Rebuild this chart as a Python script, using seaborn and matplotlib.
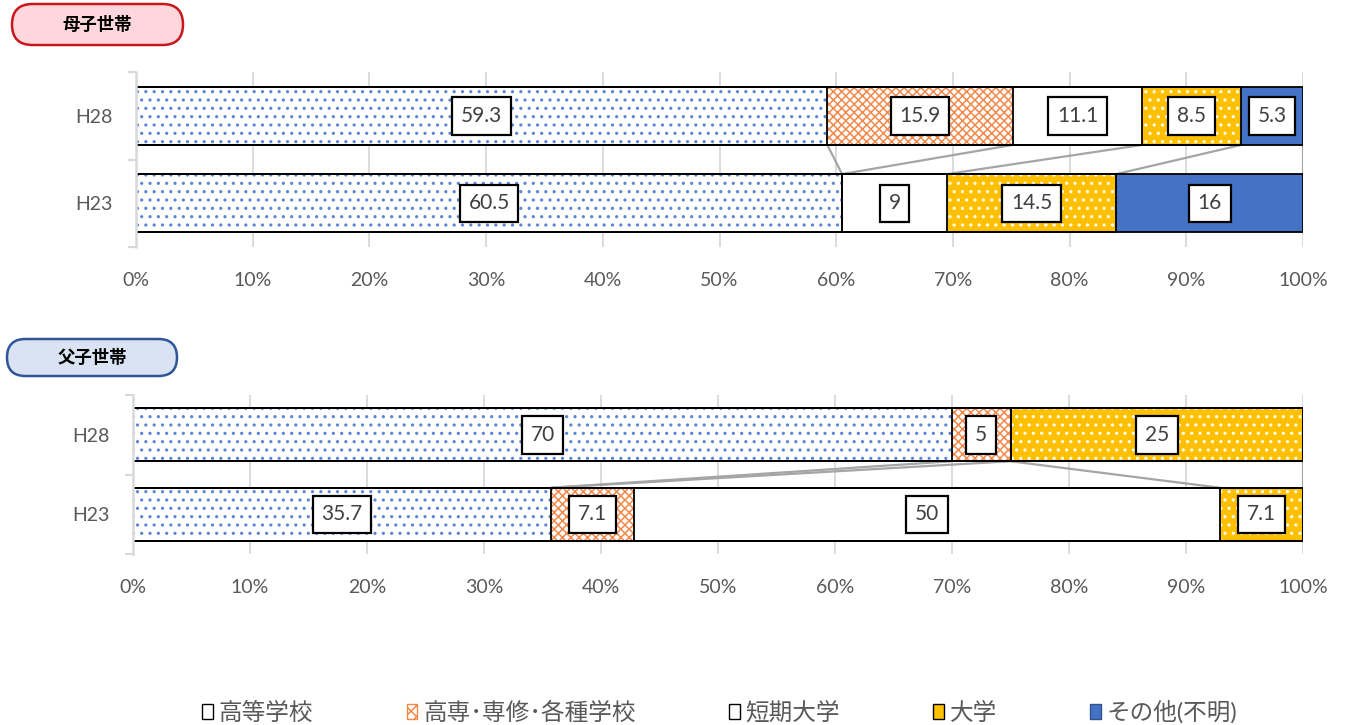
import matplotlib
matplotlib.use("Agg")
import matplotlib.pyplot as plt
from matplotlib.patches import Patch, FancyBboxPatch
import pandas as pd
import seaborn as sns

# -------------------------
# Data
# -------------------------
years = ["H28", "H23"]
categories = ["高等学校", "高専･専修･各種学校", "短期大学", "大学", "その他(不明)"]

mother_h28 = [59.3, 15.9, 11.1, 8.5, 5.3]
mother_h23 = [60.5, 0, 9, 14.5, 16]
father_h28 = [70, 5, 0, 25, 0]
father_h23 = [35.7, 7.1, 50, 7.1, 0]

# series lines: (H28 boundary index, H23 boundary index), as seen in the picture
mother_links = [(0, 0), (1, 1), (2, 2), (3, 3), (4, 4)]
father_links = [(0, 0), (1, 0), (2, 2), (3, 3)]

x_ticks = list(range(0, 101, 10))
x_tick_labels = [f"{t}%" for t in x_ticks]

# -------------------------
# Styles
# -------------------------
face_colors = ["white", "white", "white", "#FFC000", "#4472C4"]
hatch_colors = ["#5B85D6", "#F4894A", "white", "white", "#4472C4"]
hatches = ["..", "xxxx", "", "..", ""]
BAR_W = 0.667
TICK_COL = "#595959"
LABEL_COL = "#404040"
GRID_COL = "#D9D9D9"

sns.set_theme(style="white")
plt.rcParams["font.family"] = ["Lato", "Noto Sans CJK JP", "DejaVu Sans"]
plt.rcParams["hatch.linewidth"] = 1.1

fig = plt.figure(figsize=(13.45, 7.25), dpi=100)
ax_top = fig.add_axes([136 / 1345, 1 - 247 / 725, 1167 / 1345, 175 / 725])
ax_bot = fig.add_axes([133 / 1345, 1 - 554 / 725, 1170 / 1345, 159 / 725])


def cumulate(vals):
    total = sum(vals)
    pct = [v / total * 100 for v in vals]
    cum = []
    s = 0
    for p in pct:
        s += p
        cum.append(s)
    return pct, cum


def draw_panel(ax, h28, h23, links):
    pct28, cum28 = cumulate(h28)
    pct23, cum23 = cumulate(h23)

    # fills: longest cumulative bar first, shorter ones on top
    for i in reversed(range(len(categories))):
        d = pd.DataFrame({"year": years, "cum": [cum28[i], cum23[i]]})
        sns.barplot(data=d, x="cum", y="year", order=years, orient="h",
                    color=face_colors[i], saturation=1, width=BAR_W,
                    errorbar=None, hatch=hatches[i],
                    edgecolor=hatch_colors[i], linewidth=0, zorder=2, ax=ax)

    # black outlines of every segment
    for i in range(len(categories)):
        d = pd.DataFrame({"year": years, "cum": [cum28[i], cum23[i]]})
        sns.barplot(data=d, x="cum", y="year", order=years, orient="h",
                    color="black", fill=False, width=BAR_W, errorbar=None,
                    linewidth=1.3, zorder=3, ax=ax)

    # series lines between the two bars
    for a, b in links:
        ax.plot([cum28[a], cum23[b]], [BAR_W / 2, 1 - BAR_W / 2],
                color="#A5A5A5", lw=1.6, zorder=2.5, solid_capstyle="butt")

    # value labels
    for row, (vals, pct, cum) in enumerate([(h28, pct28, cum28), (h23, pct23, cum23)]):
        for v, p, c in zip(vals, pct, cum):
            if v > 0:
                ax.text(c - p / 2, row, f"{v:g}", ha="center", va="center",
                        fontsize=15, color=LABEL_COL, zorder=6,
                        bbox=dict(boxstyle="square,pad=0.42", fc="white",
                                  ec="black", lw=1.6))

    ax.set_xlim(0, 100)
    ax.set_ylim(1.5, -0.5)
    ax.set_xticks(x_ticks)
    ax.set_xticklabels(x_tick_labels, fontsize=14, color=TICK_COL)
    ax.tick_params(axis="x", length=0, pad=18)
    ax.tick_params(axis="y", which="major", length=0, pad=17, labelsize=14,
                   labelcolor=TICK_COL)
    ax.set_yticks([-0.5, 0.5, 1.5], minor=True)
    ax.tick_params(axis="y", which="minor", length=6, width=1.5,
                   color=GRID_COL, direction="out", left=True)
    ax.set_xlabel("")
    ax.set_ylabel("")
    ax.xaxis.grid(True, color=GRID_COL, lw=1.3)
    ax.set_axisbelow(True)
    for side in ["top", "right", "bottom"]:
        ax.spines[side].set_visible(False)
    ax.spines["left"].set_color(GRID_COL)
    ax.spines["left"].set_linewidth(1.8)
    ax.spines["left"].set_zorder(4)


draw_panel(ax_top, mother_h28, mother_h23, mother_links)
draw_panel(ax_bot, father_h28, father_h23, father_links)

# -------------------------
# Panel badges
# -------------------------
badges = [
    ("母子世帯", 0.12, 6.80, 1.71, 0.41, "#FDD7DC", "#C8161D"),
    ("父子世帯", 0.07, 3.49, 1.70, 0.37, "#DAE3F3", "#2F5597"),
]
for text, x0, y0, w, h, fc, ec in badges:
    fig.add_artist(FancyBboxPatch((x0, y0), w, h,
                                  boxstyle=f"round,pad=0,rounding_size={h / 2}",
                                  fc=fc, ec=ec, lw=1.8,
                                  transform=fig.dpi_scale_trans))
    fig.text(x0 + w / 2, y0 + h / 2, text, ha="center", va="center",
             fontsize=12.5, fontweight="bold", color="black",
             family=["Noto Sans CJK JP", "DejaVu Sans"],
             transform=fig.dpi_scale_trans)

# -------------------------
# Legend
# -------------------------
legend_handles = [
    Patch(facecolor="white", edgecolor="black", lw=1.0),
    Patch(facecolor="white", edgecolor="#F4894A", hatch="xxx", lw=1.0),
    Patch(facecolor="white", edgecolor="black", lw=1.0),
    Patch(facecolor="#FFC000", edgecolor="black", lw=1.0),
    Patch(facecolor="#4472C4", edgecolor="#2F528F", lw=1.0),
]
fig.legend(legend_handles, categories, loc="center",
           bbox_to_anchor=(720 / 1345, 1 - 712 / 725), ncol=5, frameon=False,
           fontsize=17, labelcolor=TICK_COL, handlelength=0.45,
           handleheight=0.65, handletextpad=0.25, columnspacing=3.95,
           borderpad=0)

fig.savefig("out.png", dpi=100)
plt.close(fig)
